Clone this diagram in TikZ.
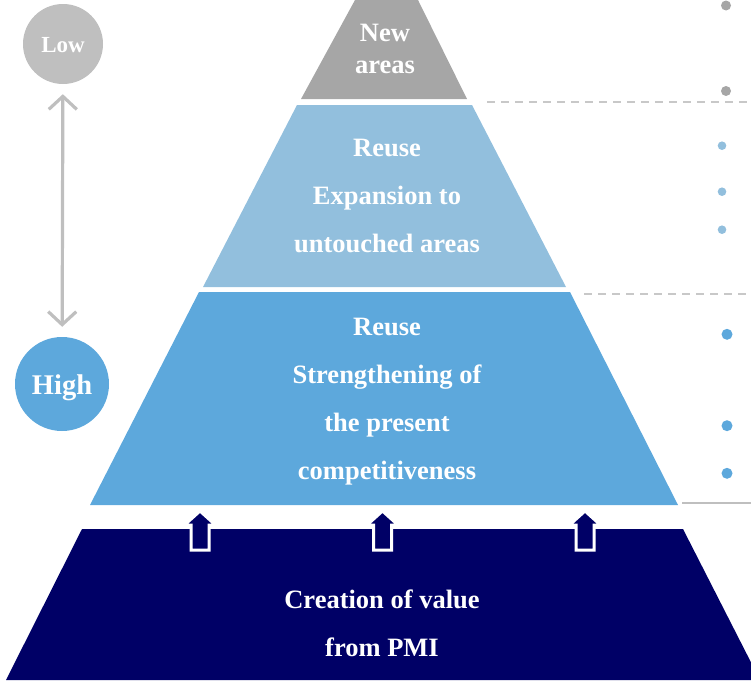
\documentclass[tikz,border=0pt]{standalone}
\usepackage{fontspec}
\setmainfont{Liberation Serif}
\usetikzlibrary{arrows.meta}
\definecolor{greyband}{HTML}{A6A6A6}
\definecolor{lightband}{HTML}{92BFDD}
\definecolor{midband}{HTML}{5DA8DC}
\definecolor{navyband}{HTML}{000066}
\definecolor{lowgrey}{HTML}{BFBFBF}
\definecolor{lineGrey}{HTML}{C8C8C8}
\tikzset{
  bandtext/.style={text=white, font=\bfseries\fontsize{26.5}{30}\selectfont, anchor=base, inner sep=0pt},
  blockarrow/.style={fill=navyband, draw=white, line width=3pt, line join=miter},
  dashline/.style={draw=lineGrey, line width=2pt, dash pattern=on 8pt off 6pt},
  levelcircle/.style={circle, inner sep=0pt, text=white, font=\bfseries},
}
\begin{document}
\begin{tikzpicture}[x=1pt,y=-1pt]
\useasboundingbox (0,0) rectangle (751,680);
% pyramid bands
\fill[greyband] (355,0) -- (418,0) -- (467,99) -- (301,99) -- cycle;
\fill[lightband] (297,105) -- (472,105) -- (566,287) -- (203,287) -- cycle;
\fill[midband] (199,292) -- (570,292) -- (678,505) -- (90,505) -- cycle;
\fill[navyband] (82,529) -- (683,529) -- (760,680) -- (6,680) -- cycle;
% block arrows
\foreach \ax in {200,382.5,585}{
  \draw[blockarrow] (\ax,511) -- (\ax+15.5,525) -- (\ax+9,525) -- (\ax+9,550) -- (\ax-9,550) -- (\ax-9,525) -- (\ax-15.5,525) -- cycle;
}
% texts
\node[bandtext] (t1) at (385,41) {New};
\node[bandtext] (t2) at (385,73) {areas};
\node[bandtext] (t3) at (387,156) {Reuse};
\node[bandtext] (t4) at (387,204) {Expansion to};
\node[bandtext] (t5) at (387,252) {untouched areas};
\node[bandtext] (t6) at (387,335) {Reuse};
\node[bandtext] (t7) at (387,383) {Strengthening of};
\node[bandtext] (t8) at (387,431) {the present};
\node[bandtext] (t9) at (387,479) {competitiveness};
\node[bandtext] (t10) at (382,608) {Creation of value};
\node[bandtext] (t11) at (382,656) {from PMI};
% circles
\node[levelcircle, fill=lowgrey, minimum size=80pt, font=\bfseries\fontsize{23}{24}\selectfont] (low) at (63,44) {\raisebox{-8pt}[0pt][0pt]{Low}};
\node[levelcircle, fill=midband, minimum size=94pt, font=\bfseries\fontsize{28.5}{30}\selectfont] (high) at (62,384) {\raisebox{-10pt}[0pt][0pt]{High}};
\draw[draw=lowgrey, line width=3.2pt, line cap=round, line join=round,
  {Straight Barb[length=13pt,width=28pt]}-{Straight Barb[length=13pt,width=28pt]},
  shorten <=10pt, shorten >=10pt] (low) -- (high);
% right side lines
\draw[dashline] (487,102) -- (751,102);
\draw[dashline] (584,294) -- (751,294);
\draw[draw=lowgrey, line width=2pt] (682,502.5) -- (751,502.5);
% dots
\fill[greyband] (726,5.5) circle (5);
\fill[greyband] (726,91) circle (5);
\fill[lightband] (722,145.7) circle (4.3);
\fill[lightband] (722,191.7) circle (4.3);
\fill[lightband] (722,229.7) circle (4.3);
\fill[midband] (727,334.3) circle (5.5);
\fill[midband] (727,425.7) circle (5.5);
\fill[midband] (727,473.3) circle (5.5);
\end{tikzpicture}
\end{document}
